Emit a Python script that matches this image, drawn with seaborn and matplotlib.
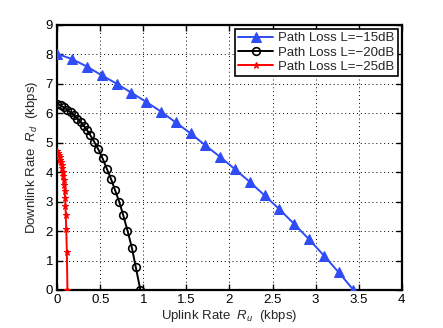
import numpy as np
import pandas as pd
import matplotlib
matplotlib.use("Agg")
import matplotlib.pyplot as plt
import seaborn as sns


# ---------------------------------
# DATA
# ---------------------------------

series_names = ["Path Loss L=\u221215dB", "Path Loss L=\u221220dB", "Path Loss L=\u221225dB"]

uplink_15 = [0.000, 0.172, 0.344, 0.516, 0.688, 0.860, 1.032, 1.204, 1.376, 1.548,
             1.720, 1.892, 2.064, 2.236, 2.408, 2.580, 2.752, 2.924, 3.096, 3.268, 3.440]
downlink_15 = [8.02, 7.84, 7.59, 7.29, 7.01, 6.70, 6.39, 6.06, 5.69, 5.32,
               4.91, 4.52, 4.10, 3.67, 3.21, 2.74, 2.24, 1.72, 1.17, 0.60, 0.00]

uplink_20 = [0.000, 0.038, 0.077, 0.116, 0.155, 0.194, 0.233, 0.272, 0.310, 0.348,
             0.385, 0.428, 0.476, 0.526, 0.575, 0.624, 0.670, 0.720, 0.766, 0.815,
             0.866, 0.912, 0.965]
downlink_20 = [6.33, 6.27, 6.20, 6.12, 6.03, 5.93, 5.82, 5.70, 5.57, 5.42,
               5.25, 5.04, 4.78, 4.47, 4.12, 3.77, 3.40, 2.99, 2.54, 2.02,
               1.44, 0.77, 0.00]

uplink_25 = [0.000, 0.008, 0.018, 0.026, 0.034, 0.042, 0.050, 0.057, 0.063, 0.069,
             0.075, 0.081, 0.086, 0.091, 0.095, 0.099, 0.104, 0.111, 0.118]
downlink_25 = [4.73, 4.66, 4.59, 4.51, 4.43, 4.34, 4.24, 4.13, 4.01, 3.88,
               3.73, 3.56, 3.36, 3.12, 2.85, 2.55, 2.08, 1.30, 0.00]

x_ticks = [0, 0.5, 1, 1.5, 2, 2.5, 3, 3.5, 4]
x_tick_labels = ["0", "0.5", "1", "1.5", "2", "2.5", "3", "3.5", "4"]
y_ticks = [0, 1, 2, 3, 4, 5, 6, 7, 8, 9]


# ---------------------------------
# STYLE
# ---------------------------------

sns.set_style("ticks")
plt.rcParams["font.family"] = ["Liberation Sans", "DejaVu Sans"]
plt.rcParams["mathtext.fontset"] = "custom"
plt.rcParams["mathtext.rm"] = "Liberation Sans"
plt.rcParams["mathtext.it"] = "Liberation Sans:italic"
plt.rcParams["font.size"] = 9


# ---------------------------------
# PLOT
# ---------------------------------

fig = plt.figure(figsize=(4.43, 3.28), dpi=100)
ax = fig.add_axes([0.1293, 0.1159, 0.9068 - 0.1293, 0.9238 - 0.1159])

sns.lineplot(x=uplink_15, y=downlink_15, ax=ax, color="#2f4cf5", linewidth=1.4,
             marker="^", markersize=6.5, markeredgecolor="#2f4cf5",
             label=series_names[0], zorder=3)
sns.lineplot(x=uplink_20, y=downlink_20, ax=ax, color="black", linewidth=1.4,
             marker="o", markersize=5.5, markerfacecolor="none",
             markeredgecolor="black", markeredgewidth=1.2,
             label=series_names[1], zorder=3)
sns.lineplot(x=uplink_25, y=downlink_25, ax=ax, color="red", linewidth=1.4,
             marker="*", markersize=5, markeredgecolor="red",
             label=series_names[2], zorder=3)

ax.set_xlim(0, 4)
ax.set_ylim(0, 9)
ax.set_xticks(x_ticks)
ax.set_xticklabels(x_tick_labels)
ax.set_yticks(y_ticks)

ax.grid(True, linestyle=(0, (1, 3)), color="black", linewidth=0.7)
ax.tick_params(direction="in", length=4, width=1, top=True, right=True,
               labelsize=9.5, colors="black", pad=3)
for side in ax.spines.values():
    side.set_linewidth(1.6)
    side.set_color("black")

ax.set_xlabel("Uplink Rate  $R_u$  (kbps)", fontsize=9.5, labelpad=1)
ax.set_ylabel("Downlink Rate  $R_d$  (kbps)", fontsize=9.5, labelpad=4)

leg = ax.legend(loc="upper right", fontsize=9.5, frameon=True, fancybox=False,
                edgecolor="black", handlelength=2.6, borderpad=0.25,
                labelspacing=0.15, handletextpad=0.4, borderaxespad=0.3)
leg.get_frame().set_linewidth(1.2)
leg.get_frame().set_alpha(1)

fig.savefig("out.png", dpi=100)
